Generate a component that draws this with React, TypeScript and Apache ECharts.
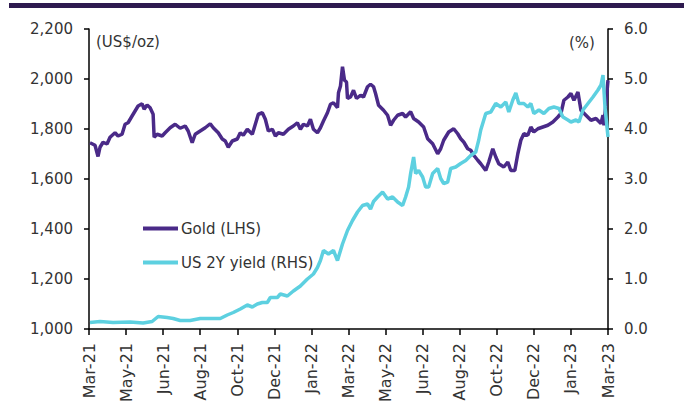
import React, { useEffect, useRef } from "react";
import * as echarts from "echarts";

// Trading-day index (0 = start of Mar-21) and readings
const tickLabels = [
  "Mar-21", "May-21", "Jun-21", "Aug-21", "Oct-21", "Dec-21", "Jan-22", "Mar-22",
  "May-22", "Jun-22", "Aug-22", "Oct-22", "Dec-22", "Jan-23", "Mar-23",
];

const goldIdx = [
  1, 6, 9, 11, 14, 18, 21, 26, 29, 33, 36, 39, 43, 46, 49, 53, 55, 58, 61, 64, 65, 68, 73, 76, 81, 86, 91, 96, 99,
  103, 106, 111, 116, 121, 124, 129, 133, 136, 139, 143, 148, 151, 154, 158, 163, 166, 169, 173, 176, 179, 183, 186,
  189, 194, 199, 204, 208, 211, 214, 218, 221, 224, 228, 231, 234, 238, 241, 244, 248, 249, 251, 253, 255, 257, 258,
  261, 264, 267, 271, 274, 278, 281, 284, 286, 289, 294, 298, 301, 304, 308, 313, 316, 321, 324, 329, 334, 338, 343,
  348, 351, 354, 359, 364, 368, 371, 374, 378, 381, 384, 388, 391, 396, 399, 403, 406, 409, 414, 418, 421, 425, 428,
  431, 434, 438, 441, 444, 448, 453, 458, 463, 468, 471, 474, 478, 481, 484, 488, 491, 496, 501, 506, 511, 513, 514, 518,
];
const goldVal = [
  1745, 1735, 1690, 1727, 1747, 1740, 1767, 1785, 1772, 1779, 1819, 1825, 1852, 1872, 1892, 1901, 1879, 1896, 1885,
  1859, 1767, 1779, 1772, 1785, 1805, 1819, 1803, 1812, 1792, 1745, 1779, 1792, 1805, 1821, 1805, 1785, 1760, 1752,
  1727, 1752, 1760, 1785, 1775, 1799, 1779, 1819, 1859, 1865, 1839, 1792, 1799, 1772, 1785, 1779, 1799, 1812, 1825,
  1799, 1819, 1812, 1839, 1799, 1785, 1805, 1832, 1865, 1899, 1905, 1885, 1945, 1972, 2049, 1995, 1988, 1922, 1928,
  1955, 1922, 1935, 1928, 1969, 1979, 1969, 1942, 1895, 1875, 1855, 1815, 1835, 1855, 1862, 1848, 1869, 1842, 1828,
  1808, 1761, 1741, 1701, 1721, 1755, 1788, 1801, 1781, 1761, 1748, 1721, 1715, 1695, 1675, 1661, 1634, 1668, 1721,
  1688, 1661, 1648, 1668, 1634, 1634, 1701, 1755, 1781, 1775, 1808, 1788, 1801, 1808, 1815, 1828, 1848, 1862, 1915,
  1928, 1942, 1915, 1948, 1875, 1855, 1835, 1842, 1822, 1855, 1815, 1995,
];

const yieldIdx = [
  1, 11, 24, 41, 54, 63, 69, 78, 84, 91, 101, 111, 121, 131, 138, 144, 151, 158, 163, 168, 173, 178, 181, 188, 191,
  198, 204, 211, 218, 224, 228, 231, 234, 239, 244, 248, 253, 258, 263, 268, 273, 278, 281, 284, 288, 293, 298, 303,
  308, 313, 316, 319, 321, 324, 326, 329, 333, 336, 339, 343, 348, 351, 354, 358, 361, 366, 371, 376, 381, 386, 389,
  391, 396, 401, 406, 411, 416, 419, 423, 426, 429, 434, 438, 441, 444, 449, 454, 459, 464, 469, 473, 478, 481, 486,
  489, 493, 498, 503, 508, 511, 513, 515, 517, 518,
];
const yieldVal = [
  0.13, 0.15, 0.13, 0.14, 0.12, 0.15, 0.25, 0.23, 0.21, 0.17, 0.17, 0.21, 0.21, 0.21, 0.28, 0.33, 0.4, 0.48, 0.44,
  0.5, 0.53, 0.53, 0.63, 0.63, 0.7, 0.66, 0.76, 0.86, 1.0, 1.1, 1.23, 1.37, 1.57, 1.5, 1.57, 1.37, 1.7, 1.97, 2.17,
  2.34, 2.47, 2.5, 2.4, 2.55, 2.64, 2.74, 2.6, 2.64, 2.54, 2.47, 2.64, 2.84, 3.11, 3.44, 3.11, 3.17, 3.04, 2.84, 2.84,
  3.11, 3.21, 3.01, 2.91, 2.94, 3.21, 3.24, 3.31, 3.37, 3.47, 3.54, 3.78, 3.98, 4.31, 4.34, 4.51, 4.44, 4.54, 4.34,
  4.58, 4.72, 4.51, 4.51, 4.44, 4.51, 4.31, 4.38, 4.31, 4.41, 4.44, 4.41, 4.24, 4.18, 4.14, 4.18, 4.14, 4.38, 4.51,
  4.64, 4.78, 4.88, 5.08, 4.44, 4.04, 3.84,
];

const FONT = "DejaVu Sans";
const TEXT = "#333333";
const GOLD = "#4a2a88";
const CYAN = "#5dd0e0";

export default function App() {
  const ref = useRef<HTMLDivElement>(null);
  useEffect(() => {
    if (!ref.current) return;
    const chart = echarts.init(ref.current, undefined, { renderer: "svg" });
    const step = 37;
    chart.setOption({
      animation: false,
      backgroundColor: "#ffffff",
      textStyle: { fontFamily: FONT },
      grid: { left: 89, right: 76, top: 29, bottom: 72, containLabel: false, outerBoundsMode: "none" },
      legend: {
        orient: "vertical",
        left: 143,
        top: 221,
        padding: 0,
        itemGap: 19,
        itemWidth: 35,
        itemHeight: 4,
        icon: "rect",
        data: ["Gold (LHS)", "US 2Y yield (RHS)"],
        textStyle: { fontFamily: FONT, fontSize: 15, color: TEXT, padding: [0, 0, 0, -2] },
      },
      xAxis: {
        type: "value",
        min: 0,
        max: 518,
        interval: step,
        axisLine: { lineStyle: { color: "#000", width: 1.5 } },
        axisTick: { show: true, length: 6, lineStyle: { color: "#000", width: 1.5 } },
        splitLine: { show: false },
        axisLabel: {
          rotate: 90,
          margin: 14,
          fontFamily: FONT,
          fontSize: 16,
          color: TEXT,
          formatter: (v: number) => tickLabels[Math.round(v / step)] ?? "",
        },
      },
      yAxis: [
        {
          type: "value",
          min: 1000,
          max: 2200,
          interval: 200,
          position: "left",
          axisLine: { show: true, lineStyle: { color: "#000", width: 1.5 } },
          axisTick: { show: true, length: 5, lineStyle: { color: "#000", width: 1.5 } },
          splitLine: { show: false },
          axisLabel: {
            margin: 16,
            fontFamily: FONT,
            fontSize: 15,
            color: TEXT,
            formatter: (v: number) => v.toLocaleString("en-US"),
          },
        },
        {
          type: "value",
          min: 0,
          max: 6,
          interval: 1,
          position: "right",
          axisLine: { show: true, lineStyle: { color: "#000", width: 1.5 } },
          axisTick: { show: true, length: 5, lineStyle: { color: "#000", width: 1.5 } },
          splitLine: { show: false },
          axisLabel: {
            margin: 16,
            fontFamily: FONT,
            fontSize: 15,
            color: TEXT,
            formatter: (v: number) => v.toFixed(1),
          },
        },
      ],
      graphic: [
        { type: "rect", left: 9, top: 3, shape: { width: 675, height: 5 }, style: { fill: "#2e1a4f" } },
        {
          type: "text",
          left: 96,
          top: 34,
          style: { text: "(US$/oz)", font: `15px "${FONT}"`, fill: TEXT },
        },
        {
          type: "text",
          left: 569,
          top: 35,
          style: { text: "(%)", font: `15px "${FONT}"`, fill: TEXT },
        },
      ],
      series: [
        {
          name: "Gold (LHS)",
          type: "line",
          yAxisIndex: 0,
          showSymbol: false,
          symbol: "none",
          lineStyle: { color: GOLD, width: 3.5 },
          itemStyle: { color: GOLD },
          data: goldIdx.map((x, i) => [x, goldVal[i]]),
        },
        {
          name: "US 2Y yield (RHS)",
          type: "line",
          yAxisIndex: 1,
          showSymbol: false,
          symbol: "none",
          lineStyle: { color: CYAN, width: 3.5 },
          itemStyle: { color: CYAN },
          data: yieldIdx.map((x, i) => [x, yieldVal[i]]),
        },
      ],
    });
    return () => chart.dispose();
  }, []);
  return (
    <div
      ref={ref}
      style={{ position: "fixed", left: 0, top: 0, width: 684, height: 401, background: "#fff" }}
    />
  );
}
